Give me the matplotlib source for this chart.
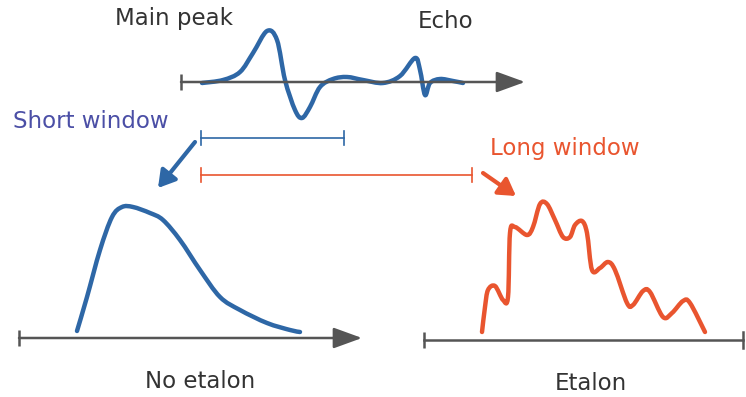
import matplotlib.pyplot as plt
from matplotlib.path import Path
from matplotlib.patches import PathPatch

# schematic drawn in pixel space of the original picture (y grows downward)
BLUE = "#2e67a6"
ORANGE = "#e9552f"
GREY = "#555555"

# top time-domain signal: main peak + echo
sig_x = [202, 223, 240, 253, 267, 277, 285, 295, 302, 310, 320, 333, 347, 363,
         383, 400, 415, 420, 425, 430, 440, 453, 463]
sig_y = [83, 80, 72, 53, 31, 40, 80, 110, 118, 107, 87, 79, 77, 80,
         83, 76, 58, 70, 95, 83, 79, 81, 83]

# spectrum with short window (no etalon)
short_x = [77, 87, 100, 112, 122, 133, 150, 163, 180, 200, 220, 240, 267, 290, 300]
short_y = [331, 297, 250, 217, 207, 207, 213, 220, 240, 270, 297, 310, 323, 330, 332]

# spectrum with long window (etalon fringes)
long_x = [482, 485, 488, 495, 503, 508, 510, 515, 527, 533, 540, 547, 555, 563,
          570, 575, 582, 587, 592, 600, 608, 615, 627, 633, 643, 650, 663, 672,
          683, 690, 705]
long_y = [332, 307, 290, 286, 300, 297, 233, 227, 235, 227, 204, 204, 220, 237,
          237, 225, 221, 233, 270, 268, 262, 270, 303, 305, 291, 292, 317, 313,
          301, 303, 332]

# windows (start, end, y)
short_win = (201, 344, 138)
long_win = (201, 472, 175)

fig = plt.figure(figsize=(7.46, 3.97), dpi=100)
ax = fig.add_axes([0, 0, 1, 1])
ax.set_xlim(0, 746)
ax.set_ylim(397, 0)
ax.axis("off")

font = ["DejaVu Sans"]


def smooth_curve(xs, ys, color):
    # cubic bezier through every point (catmull-rom tangents)
    pts = list(zip(xs, ys))
    verts = [pts[0]]
    codes = [Path.MOVETO]
    n = len(pts)
    for i in range(n - 1):
        p0 = pts[max(i - 1, 0)]
        p1 = pts[i]
        p2 = pts[i + 1]
        p3 = pts[min(i + 2, n - 1)]
        c1 = (p1[0] + (p2[0] - p0[0]) / 6, p1[1] + (p2[1] - p0[1]) / 6)
        c2 = (p2[0] - (p3[0] - p1[0]) / 6, p2[1] - (p3[1] - p1[1]) / 6)
        verts += [c1, c2, p2]
        codes += [Path.CURVE4] * 3
    ax.add_patch(PathPatch(Path(verts, codes), fill=False, edgecolor=color, lw=3.2,
                           capstyle="round", joinstyle="round"))


def time_axis(x0, x1, y, arrow=True):
    ax.plot([x0, x0], [y - 8, y + 8], color=GREY, lw=1.8, solid_capstyle="butt")
    if arrow:
        ax.annotate("", xy=(x1, y), xytext=(x0, y),
                    arrowprops=dict(arrowstyle="-|>,head_length=0.55,head_width=0.2",
                                    color=GREY, lw=1.8, mutation_scale=32,
                                    shrinkA=0, shrinkB=0))
    else:
        ax.plot([x0, x1], [y, y], color=GREY, lw=1.8)
        ax.plot([x1, x1], [y - 8, y + 8], color=GREY, lw=1.8)


time_axis(181, 525, 82)
time_axis(19, 362, 338)
time_axis(424, 743, 340, arrow=False)

smooth_curve(sig_x, sig_y, BLUE)
smooth_curve(short_x, short_y, BLUE)
smooth_curve(long_x, long_y, ORANGE)

for (x0, x1, y), c in [(short_win, BLUE), (long_win, ORANGE)]:
    ax.plot([x0, x1], [y, y], color=c, lw=1.2)
    ax.plot([x0, x0], [y - 7, y + 7], color=c, lw=1.2)
    ax.plot([x1, x1], [y - 7, y + 7], color=c, lw=1.2)

ax.annotate("", xy=(158, 188), xytext=(195, 142),
            arrowprops=dict(arrowstyle="-|>,head_length=0.5,head_width=0.3", color=BLUE,
                            lw=3, mutation_scale=20, shrinkA=0, shrinkB=0))
ax.annotate("", xy=(516, 196), xytext=(483, 173),
            arrowprops=dict(arrowstyle="-|>,head_length=0.5,head_width=0.3", color=ORANGE,
                            lw=3, mutation_scale=20, shrinkA=0, shrinkB=0))

fs = 16.5
ax.text(174, 19, "Main peak", fontsize=fs, color="#333333", family=font, ha="center", va="center")
ax.text(446, 21, "Echo", fontsize=fs, color="#333333", family=font, ha="center", va="center")
ax.text(91, 121, "Short window", fontsize=fs, color="#4b4fa6", family=font, ha="center", va="center")
ax.text(565, 149, "Long window", fontsize=fs, color=ORANGE, family=font, ha="center", va="center")
ax.text(200, 382, "No etalon", fontsize=fs, color="#333333", family=font, ha="center", va="center")
ax.text(591, 383, "Etalon", fontsize=fs, color="#333333", family=font, ha="center", va="center")

fig.savefig("out.png", dpi=100)
